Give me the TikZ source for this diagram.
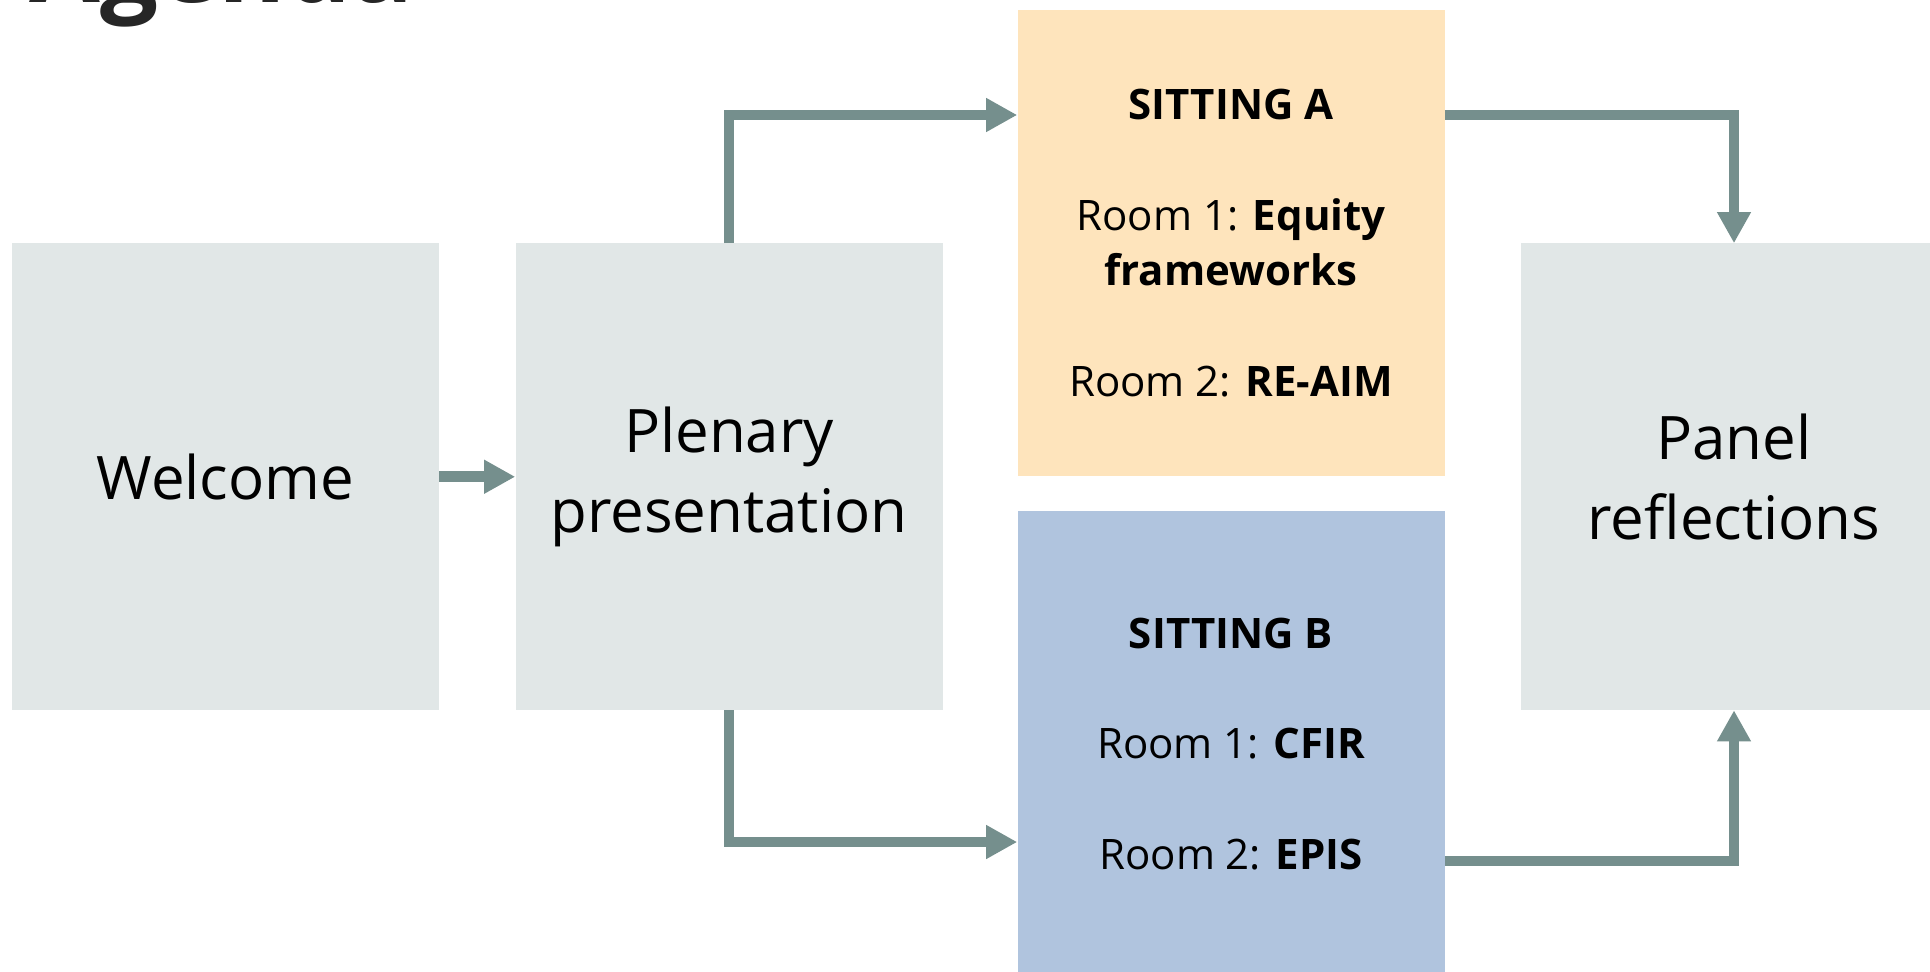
\documentclass[tikz,border=0pt]{standalone}
\usepackage{fontspec}
\setmainfont{Open Sans}
\usetikzlibrary{arrows.meta}
\definecolor{boxgray}{HTML}{E1E7E7}
\definecolor{boxorange}{HTML}{FEE4BC}
\definecolor{boxblue}{HTML}{B0C4DE}
\definecolor{arrowc}{HTML}{758F8D}
\definecolor{titlec}{HTML}{262626}
\tikzset{
  card/.style={inner sep=0pt, minimum width=320.25pt, minimum height=349.9pt, align=center, text=black},
  bigtext/.style={font=\fontsize{45pt}{60pt}\selectfont},
  smalltext/.style={font=\fontsize{31.5pt}{41.5pt}\selectfont},
  conn/.style={draw=arrowc, line width=8pt, line join=miter, line cap=butt,
    -{Triangle[length=23.25pt,width=23.8pt]}},
}
\begin{document}
\begin{tikzpicture}[x=0.75pt,y=-0.75pt]
\useasboundingbox (0,0) rectangle (1930,971);
\clip (0,0) rectangle (1930,971);
\fill[white] (0,0) rectangle (1930,971);

\node[anchor=base west, inner sep=0pt, text=titlec, font=\fontsize{77pt}{90pt}\selectfont\bfseries] (title) at (29,2.5) {Agenda};

\node[card, bigtext, fill=boxgray] (welcome) at (225.5,476.75) {Welcome};
\node[card, bigtext, fill=boxgray] (plenary) at (729,476.75) {Plenary\\presentation};
\node[card, smalltext, fill=boxorange] (sa) at (1231,243)
  {\textbf{SITTING A}\\[41.5pt]Room 1: \textbf{Equity}\\\textbf{frameworks}\\[41.5pt]Room 2: \textbf{RE-AIM}};
\node[card, smalltext, fill=boxblue] (sb) at (1231,744)
  {\textbf{SITTING B}\\[41.5pt]Room 1: \textbf{CFIR}\\[41.5pt]Room 2: \textbf{EPIS}};
\node[card, bigtext, fill=boxgray] (panel) at (1734,476.75) {Panel\\reflections};

\draw[conn] (welcome.east) -- (plenary.west);
\draw[conn] (plenary.north) |- ([yshift=96pt]sa.west);
\draw[conn] ([yshift=96pt]sa.east) -| (panel.north);
\draw[conn] (plenary.south) |- ([yshift=-73.5pt]sb.west);
\draw[conn] ([yshift=-87.75pt]sb.east) -| (panel.south);
\end{tikzpicture}
\end{document}
